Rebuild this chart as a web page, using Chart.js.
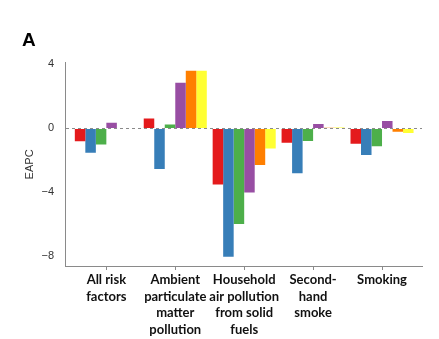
<!DOCTYPE html>
<html>
<head>
<meta charset="utf-8">
<script src="https://cdn.jsdelivr.net/npm/chart.js@4/dist/chart.umd.min.js"></script>
<style>
  html, body { margin: 0; padding: 0; background: #fff; }
  #wrap { width: 439px; height: 339px; }
</style>
</head>
<body>
<div id="wrap"><canvas id="eapc" width="439" height="339"></canvas></div>
<script>
// risk factor categories (x axis), each label split into its printed lines
const categories = [
  ['All risk', 'factors'],
  ['Ambient', 'particulate', 'matter', 'pollution'],
  ['Household', 'air pollution', 'from solid', 'fuels'],
  ['Second-', 'hand', 'smoke'],
  ['Smoking']
];

// six coloured series (EAPC)
const redVals    = [-0.81,  0.62, -3.50, -0.90, -0.96];
const blueVals   = [-1.52, -2.54, -8.02, -2.81, -1.67];
const greenVals  = [-1.00,  0.25, -5.98, -0.78, -1.12];
const purpleVals = [ 0.35,  2.85, -4.00,  0.27,  0.47];
const orangeVals = [ 0.02,  3.60, -2.29,  0.04, -0.21];
const yellowVals = [ 0.02,  3.60, -1.25,  0.05, -0.29];

const yTicks = [4, 0, -4, -8];

const seriesColors = ['#e41a1c', '#377eb8', '#4daf4a', '#984ea3', '#ff7f00', '#ffff33'];
const seriesVals = [redVals, blueVals, greenVals, purpleVals, orangeVals, yellowVals];

function toPoints(vals){
  return vals.map(function(v, i){ return { x: i, y: v }; });
}

const datasets = seriesVals.map(function(vals, k){
  return {
    label: 'Series ' + (k + 1),
    data: toPoints(vals),
    backgroundColor: seriesColors[k],
    borderWidth: 0,
    categoryPercentage: 0.915,
    barPercentage: 1.0
  };
});

const ctx = document.getElementById('eapc').getContext('2d');
new Chart(ctx, {
  type: 'bar',
  data: { datasets: datasets },
  options: {
    responsive: false,
    animation: false,
    layout: { padding: { left: 22, right: 17, top: 0, bottom: 0 } },
    plugins: {
      legend: { display: false },
      tooltip: { enabled: false },
      title: {
        display: true,
        text: 'A',
        align: 'start',
        color: '#000',
        font: { family: '"Liberation Sans", Arial, sans-serif', size: 19, weight: 'bold', lineHeight: 1.2 },
        padding: { top: 29, bottom: 11 }
      }
    },
    scales: {
      x: {
        type: 'linear',
        min: -0.6,
        max: 4.58,
        offset: false,
        afterBuildTicks: function(scale){
          scale.ticks = categories.map(function(c, i){ return { value: i }; });
        },
        afterFit: function(scale){ scale.height = 73; },
        grid: { offset: false, drawOnChartArea: false, drawTicks: true, tickLength: 4, color: '#8a8a8a', tickColor: '#8a8a8a' },
        border: { color: '#8a8a8a', width: 1 },
        ticks: {
          autoSkip: false,
          maxRotation: 0,
          padding: 1,
          color: '#111',
          font: { family: 'Lato, "Open Sans", sans-serif', size: 13, weight: 'bold', lineHeight: 1.3 },
          callback: function(value){
            return Number.isInteger(value) ? categories[value] : '';
          }
        }
      },
      y: {
        min: -8.6,
        max: 4.1,
        afterBuildTicks: function(scale){
          scale.ticks = yTicks.map(function(v){ return { value: v }; });
        },
        afterFit: function(scale){ scale.width = 43; },
        grid: {
          drawOnChartArea: true,
          drawTicks: true,
          tickLength: 4,
          color: function(c){ return c.tick && c.tick.value === 0 ? '#8a8a8a' : 'rgba(0,0,0,0)'; },
          tickColor: 'rgba(0,0,0,0)'
        },
        border: { color: '#8a8a8a', width: 1, dash: [3, 3] },
        title: {
          display: true,
          text: 'EAPC',
          color: '#333',
          font: { family: '"Liberation Sans", Arial, sans-serif', size: 11 },
          padding: { top: 1, bottom: 0 }
        },
        ticks: {
          padding: 7,
          color: '#333',
          font: { family: '"Liberation Sans", Arial, sans-serif', size: 11 },
          callback: function(value){
            return value < 0 ? '\u2212' + Math.abs(value) : String(value);
          }
        }
      }
    }
  }
});
</script>
</body>
</html>
